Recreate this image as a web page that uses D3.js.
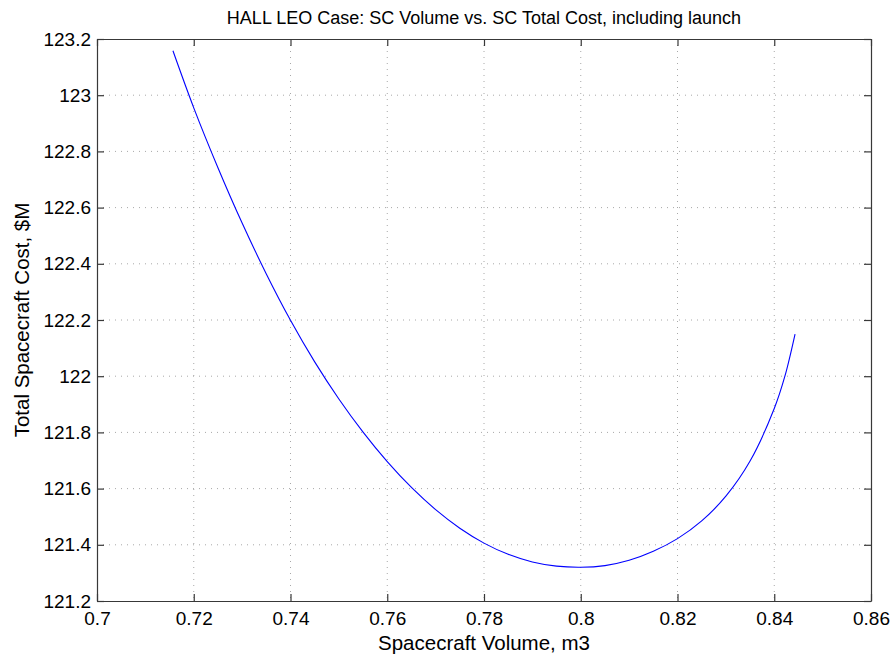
<!DOCTYPE html>
<html>
<head>
<meta charset="utf-8">
<script src="https://cdn.jsdelivr.net/npm/d3@7/dist/d3.min.js"></script>
<style>
  html, body { margin: 0; padding: 0; background: #fff; }
  svg { display: block; font-family: "Liberation Sans", Arial, sans-serif; }
</style>
</head>
<body>
<svg id="chart" width="893" height="654"></svg>
<script>
// Spacecraft volume (m3) and total cost including launch ($M)
const volume = [0.7157, 0.720, 0.725, 0.730, 0.735, 0.740, 0.745, 0.750, 0.755, 0.760,
                0.765, 0.770, 0.775, 0.780, 0.785, 0.790, 0.795, 0.800, 0.805, 0.810,
                0.815, 0.820, 0.825, 0.830, 0.835, 0.840, 0.8422, 0.8443];
const totalCost = [123.158, 122.955, 122.742, 122.545, 122.364, 122.199, 122.051, 121.919, 121.801, 121.696,
                   121.604, 121.525, 121.459, 121.406, 121.366, 121.339, 121.324, 121.320, 121.326, 121.345,
                   121.377, 121.422, 121.485, 121.573, 121.698, 121.885, 122.000, 122.150];

const xTicks = [0.7, 0.72, 0.74, 0.76, 0.78, 0.8, 0.82, 0.84, 0.86];
const yTicks = [121.2, 121.4, 121.6, 121.8, 122, 122.2, 122.4, 122.6, 122.8, 123, 123.2];

const titleText = "HALL LEO Case: SC Volume vs. SC Total Cost, including launch";
const xLabel = "Spacecraft Volume, m3";
const yLabel = "Total Spacecraft Cost, $M";

const svg = d3.select("#chart");
const m = { left: 97, right: 871, top: 39, bottom: 601 };

const x = d3.scaleLinear().domain([0.7, 0.86]).range([m.left, m.right]);
const y = d3.scaleLinear().domain([121.2, 123.2]).range([m.bottom, m.top]);

const gridColor = "#a8a8a8";
const axisColor = "#383838";
const tickLen = 7;

// dotted grid
svg.append("g").selectAll("line").data(xTicks.slice(1, -1)).join("line")
  .attr("x1", d => x(d)).attr("x2", d => x(d))
  .attr("y1", m.top).attr("y2", m.bottom)
  .attr("stroke", gridColor).attr("stroke-width", 1).attr("stroke-dasharray", "1,5");
svg.append("g").selectAll("line").data(yTicks.slice(1, -1)).join("line")
  .attr("x1", m.left).attr("x2", m.right)
  .attr("y1", d => y(d)).attr("y2", d => y(d))
  .attr("stroke", gridColor).attr("stroke-width", 1).attr("stroke-dasharray", "1,5");

// axes with inward ticks, mirrored on the opposite sides
const fmt = d => String(+d.toFixed(2));
const bottomAxis = d3.axisBottom(x).tickValues(xTicks).tickSizeInner(-tickLen).tickSizeOuter(0).tickPadding(11).tickFormat(fmt);
const topAxis = d3.axisTop(x).tickValues(xTicks).tickSizeInner(-tickLen).tickSizeOuter(0).tickFormat("");
const leftAxis = d3.axisLeft(y).tickValues(yTicks).tickSizeInner(-tickLen).tickSizeOuter(0).tickPadding(6).tickFormat(fmt);
const rightAxis = d3.axisRight(y).tickValues(yTicks).tickSizeInner(-tickLen).tickSizeOuter(0).tickFormat("");

function style(g) {
  g.selectAll(".domain").attr("stroke", axisColor).attr("stroke-width", 1.2);
  g.selectAll(".tick line").attr("stroke", axisColor).attr("stroke-width", 1.2);
  g.selectAll(".tick text").attr("fill", "#000").style("font-size", "19px")
    .style("font-family", "'Liberation Sans', Arial, sans-serif");
}

svg.append("g").attr("transform", `translate(0,${m.bottom})`).call(bottomAxis).call(style);
svg.append("g").attr("transform", `translate(0,${m.top})`).call(topAxis).call(style);
svg.append("g").attr("transform", `translate(${m.left},0)`).call(leftAxis).call(style);
svg.append("g").attr("transform", `translate(${m.right},0)`).call(rightAxis).call(style);

// cost curve
const pts = volume.map((v, i) => [v, totalCost[i]]);
svg.append("path")
  .datum(pts)
  .attr("fill", "none")
  .attr("stroke", "#0000ff")
  .attr("stroke-width", 1.1)
  .attr("d", d3.line().x(d => x(d[0])).y(d => y(d[1])).curve(d3.curveCatmullRom.alpha(0.5)));

// title and axis labels
svg.append("text").attr("x", (m.left + m.right) / 2).attr("y", 24)
  .attr("text-anchor", "middle").style("font-size", "18px").text(titleText);
svg.append("text").attr("x", (m.left + m.right) / 2).attr("y", 650)
  .attr("text-anchor", "middle").style("font-size", "20.5px").text(xLabel);
svg.append("text").attr("transform", `translate(29,${(m.top + m.bottom) / 2}) rotate(-90)`)
  .attr("text-anchor", "middle").style("font-size", "20.5px").text(yLabel);
</script>
</body>
</html>
